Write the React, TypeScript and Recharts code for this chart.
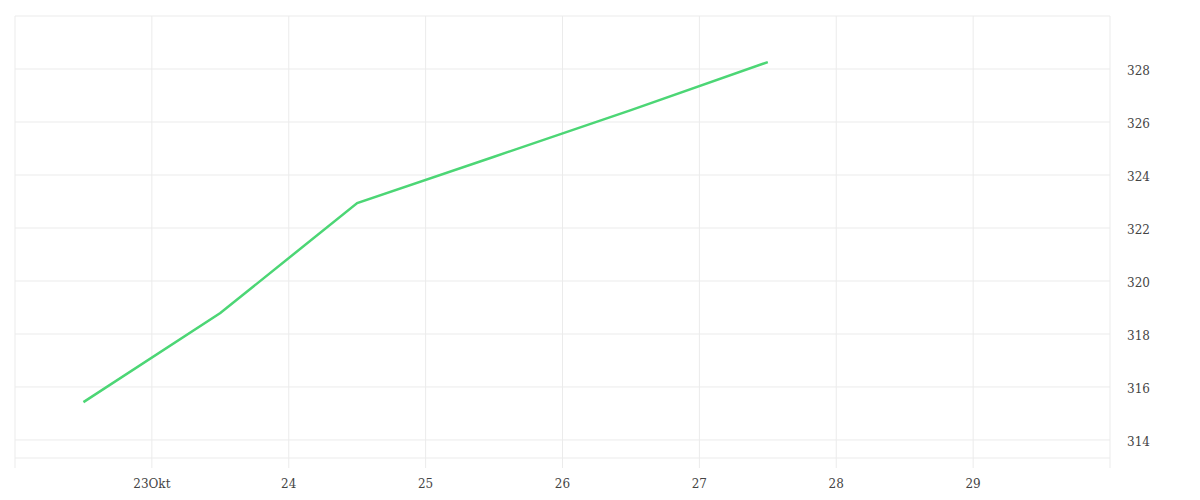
import React from "react";
import { LineChart, Line, XAxis, YAxis, CartesianGrid } from "recharts";

const days = [22.5, 23.5, 24.5, 25.5, 26.5, 27.5];
const values = [315.43, 318.79, 322.94, 324.69, 326.45, 328.26];
const xTicks = [22, 23, 24, 25, 26, 27, 28, 29, 30];
const xLabels: Record<number, string> = { 23: "23Okt", 24: "24", 25: "25", 26: "26", 27: "27", 28: "28", 29: "29" };
const yDomain: [number, number] = [313.32, 330];
const yTicks = [313.32, 314, 316, 318, 320, 322, 324, 326, 328, 330];
const yLabels = [314, 316, 318, 320, 322, 324, 326, 328];

const data = days.map((d, i) => ({ day: d, value: values[i] }));

const FONT = "'DejaVu Serif', serif";
const GRID = "#ebebeb";

const XTick = (props: any) => {
  const { x, y, payload } = props;
  const label = xLabels[payload.value];
  if (!label) return <g />;
  return (
    <text x={x} y={y} dy="0.71em" textAnchor="middle" fontFamily={FONT} fontSize={12} fill="#444">
      {label}
    </text>
  );
};

const YTick = (props: any) => {
  const { x, y, payload } = props;
  if (!yLabels.includes(payload.value)) return <g />;
  return (
    <text x={x} y={y} dy="0.52em" textAnchor="start" fontFamily={FONT} fontSize={12} fill="#444">
      {payload.value}
    </text>
  );
};

export default function App() {
  return (
    <LineChart
      width={1184}
      height={484}
      data={data}
      margin={{ top: 4, right: 0, bottom: 0, left: 7 }}
    >
      <CartesianGrid stroke={GRID} strokeWidth={1} />
      <XAxis
        xAxisId="top"
        orientation="top"
        dataKey="day"
        type="number"
        domain={[22, 30]}
        ticks={xTicks}
        height={4}
        tickSize={4}
        tick={false}
        axisLine={false}
        tickLine={{ stroke: GRID }}
      />
      <XAxis
        dataKey="day"
        type="number"
        domain={[22, 30]}
        ticks={xTicks}
        height={34}
        tickSize={10}
        tickMargin={11}
        axisLine={false}
        tickLine={{ stroke: GRID }}
        tick={<XTick />}
        interval={0}
      />
      <YAxis
        orientation="right"
        type="number"
        domain={yDomain}
        ticks={yTicks}
        width={82}
        tickSize={0}
        tickMargin={17}
        axisLine={false}
        tickLine={false}
        tick={<YTick />}
        interval={0}
      />
      <Line
        dataKey="value"
        type="linear"
        stroke="#4cd675"
        strokeWidth={2.5}
        dot={false}
        isAnimationActive={false}
      />
    </LineChart>
  );
}
